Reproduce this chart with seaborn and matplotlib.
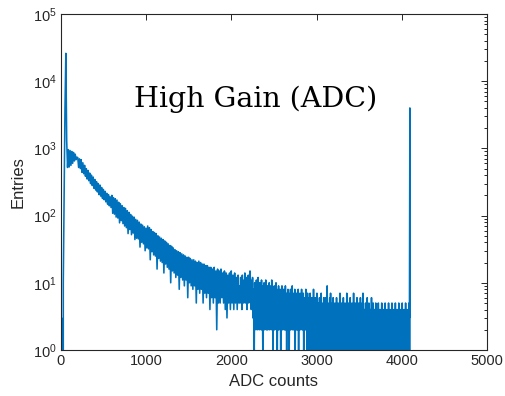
import numpy as np
import pandas as pd
import matplotlib
matplotlib.use("Agg")
import matplotlib.pyplot as plt
import seaborn as sns
from matplotlib.ticker import LogLocator, NullLocator, FixedLocator

# ---------------- data (entries per ADC bin) ----------------
# ADC 0..190, step 10 (pedestal peak and comb)
head_0_190 = [0, 3, 0, 10, 200, 4000, 26000, 1300, 520, 960, 530, 930, 560, 900,
              600, 870, 650, 820, 680, 740]
# ADC 200..590, step 10
head_200_590 = [730, 520, 700, 500, 680, 440, 610, 420, 560, 385, 500, 350, 470, 330,
                430, 300, 400, 280, 375, 255, 345, 240, 320, 225, 300, 205, 285, 195,
                262, 180, 245, 172, 230, 160, 215, 148, 205, 140, 190, 132]
# ADC 600..1000, step 10
head_600_1000 = [200, 108, 185, 105, 178, 95, 170, 92, 158, 78, 150, 84, 140, 76, 132,
                 70, 128, 66, 118, 54, 112, 62, 104, 52, 98, 55, 95, 44, 88, 46, 85, 45,
                 80, 34, 75, 40, 72, 38, 68, 30, 65]
# ADC 1010..1600, step 10
head_1010_1600 = [33, 70, 32, 66, 22, 62, 29, 58, 26, 56, 25, 54, 16, 50, 23, 48, 21, 46,
                  20, 44, 14, 42, 19, 40, 17, 38, 16, 36, 10, 35, 15, 33, 14, 31, 12, 30,
                  13, 29, 8, 28, 12, 27, 11, 26, 9, 25, 11, 24, 6, 24, 10, 23, 9, 22,
                  8, 22, 9, 21, 5, 20]
# ADC 1610..2090, step 10
head_1610_2090 = [8, 21, 7, 20, 8, 19, 5, 19, 7, 18, 6, 18, 7, 17, 4, 17, 6, 16, 5, 17,
                  6, 15, 2, 16, 5, 15, 5, 16, 6, 14, 5, 15, 4, 14, 3, 13, 5, 14, 4, 15,
                  5, 13, 4, 14, 5, 12, 4, 13, 5]
# ADC 2100..4090, step 5 (tail)
tail_2100 = [9, 5, 12, 7, 10, 4, 13, 6, 9, 5, 11, 7, 14, 5, 10, 6, 12, 4, 9, 7]
tail_2200 = [13, 5, 10, 6, 15, 7, 11, 4, 9, 6, 12, 3, 8, 2, 1, 10, 3, 9, 2, 11]
tail_2300 = [3, 9, 2, 12, 4, 8, 2, 10, 3, 7, 2, 11, 2, 8, 1, 9, 3, 10, 2, 8]
tail_2400 = [3, 11, 2, 7, 2, 9, 2, 8, 3, 10, 2, 6, 3, 9, 2, 11, 3, 7, 1, 8]
tail_2500 = [2, 9, 2, 7, 3, 10, 2, 8, 1, 6, 2, 9, 2, 7, 3, 8, 1, 6, 2, 9]
tail_2600 = [2, 7, 3, 8, 2, 6, 2, 9, 2, 7, 1, 5, 2, 8, 2, 7, 1, 6, 2, 8]
tail_2700 = [2, 6, 3, 9, 2, 7, 2, 5, 3, 8, 1, 6, 2, 7, 2, 5, 2, 8, 1, 6]
tail_2800 = [2, 7, 2, 5, 3, 8, 2, 6, 2, 7, 1, 5, 2, 6, 2, 8, 2, 5, 1, 7]
tail_2900 = [1, 6, 1, 5, 2, 7, 1, 4, 1, 6, 2, 5, 1, 8, 1, 4, 2, 6, 1, 5]
tail_3000 = [1, 7, 1, 4, 2, 5, 1, 6, 1, 4, 1, 7, 2, 5, 1, 4, 1, 6, 2, 5]
tail_3100 = [1, 6, 1, 4, 2, 9, 1, 5, 1, 4, 2, 6, 1, 7, 1, 4, 2, 5, 1, 6]
tail_3200 = [1, 4, 1, 5, 2, 4, 1, 6, 1, 4, 2, 5, 1, 3, 1, 7, 2, 4, 1, 5]
tail_3300 = [1, 4, 2, 6, 1, 4, 1, 5, 2, 4, 1, 7, 1, 4, 2, 5, 1, 4, 1, 6]
tail_3400 = [2, 4, 1, 5, 1, 4, 2, 7, 1, 4, 1, 5, 2, 4, 1, 6, 1, 4, 2, 5]
tail_3500 = [1, 4, 1, 6, 2, 4, 1, 5, 1, 7, 2, 4, 1, 4, 1, 5, 2, 4, 1, 6]
tail_3600 = [1, 4, 2, 5, 1, 3, 1, 4, 2, 6, 1, 4, 1, 5, 2, 3, 1, 4, 1, 5]
tail_3700 = [2, 4, 1, 3, 1, 5, 2, 4, 1, 3, 1, 4, 2, 5, 1, 3, 1, 4, 2, 3]
tail_3800 = [1, 5, 1, 3, 2, 4, 1, 3, 1, 5, 2, 3, 1, 4, 1, 3, 2, 5, 1, 3]
tail_3900 = [1, 4, 2, 3, 1, 5, 1, 3, 2, 4, 1, 3, 1, 5, 2, 3, 1, 4, 1, 3]
tail_4000 = [2, 5, 1, 3, 1, 4, 2, 3, 1, 5, 1, 3, 2, 4, 1, 3, 1, 5, 3]
# overflow bin
overflow_adc = [4095, 4096]
overflow_val = [4000, 1]

title_text = "High Gain (ADC)"
x_label = "ADC counts"
y_label = "Entries"
x_ticks = [0, 1000, 2000, 3000, 4000, 5000]

# ---------------- assemble ----------------
head_vals = head_0_190 + head_200_590 + head_600_1000 + head_1010_1600 + head_1610_2090
tail_vals = (tail_2100 + tail_2200 + tail_2300 + tail_2400 + tail_2500 + tail_2600 +
             tail_2700 + tail_2800 + tail_2900 + tail_3000 + tail_3100 + tail_3200 +
             tail_3300 + tail_3400 + tail_3500 + tail_3600 + tail_3700 + tail_3800 +
             tail_3900 + tail_4000)
head_x = list(range(0, 10 * len(head_vals), 10))
tail_x = list(range(2100, 2100 + 5 * len(tail_vals), 5))
adc = head_x + tail_x + overflow_adc
entries = head_vals + tail_vals + overflow_val
df = pd.DataFrame({"adc": adc, "entries": entries})

# ---------------- plot ----------------
sns.set_style("white")
plt.rcParams["font.family"] = ["Liberation Sans", "DejaVu Sans"]
plt.rcParams["mathtext.fontset"] = "custom"
plt.rcParams["mathtext.rm"] = "Liberation Sans"

fig = plt.figure(figsize=(5.06, 3.96), dpi=100)
ax = fig.add_axes([0.12, 0.1162, 0.8425, 0.8484])

sns.lineplot(data=df, x="adc", y="entries", ax=ax, color="#0072BD",
             linewidth=1.15, estimator=None, sort=False)

ax.set_yscale("log")
ax.set_xlim(0, 5000)
ax.set_ylim(1, 1e5)
ax.xaxis.set_major_locator(FixedLocator(x_ticks))
ax.xaxis.set_minor_locator(NullLocator())
ax.yaxis.set_major_locator(LogLocator(base=10, numticks=10))
ax.yaxis.set_minor_locator(LogLocator(base=10, subs=np.arange(2, 10), numticks=10))

dark = "#262626"
for s in ax.spines.values():
    s.set_color(dark)
    s.set_linewidth(0.8)
    s.set_visible(True)
ax.tick_params(which="both", direction="in", top=True, right=True,
               colors=dark, labelsize=10.5, width=0.7)
ax.tick_params(which="major", length=4.5, pad=3)
ax.tick_params(which="minor", length=2.3)

ax.set_xlabel(x_label, fontsize=12, color=dark, labelpad=4)
ax.set_ylabel(y_label, fontsize=12, color=dark, labelpad=5)

ax.text(0.457, 0.723, title_text, transform=ax.transAxes, ha="center",
        va="baseline", fontsize=20.5, family="DejaVu Serif", color="black")

fig.savefig("out.png", dpi=100)
